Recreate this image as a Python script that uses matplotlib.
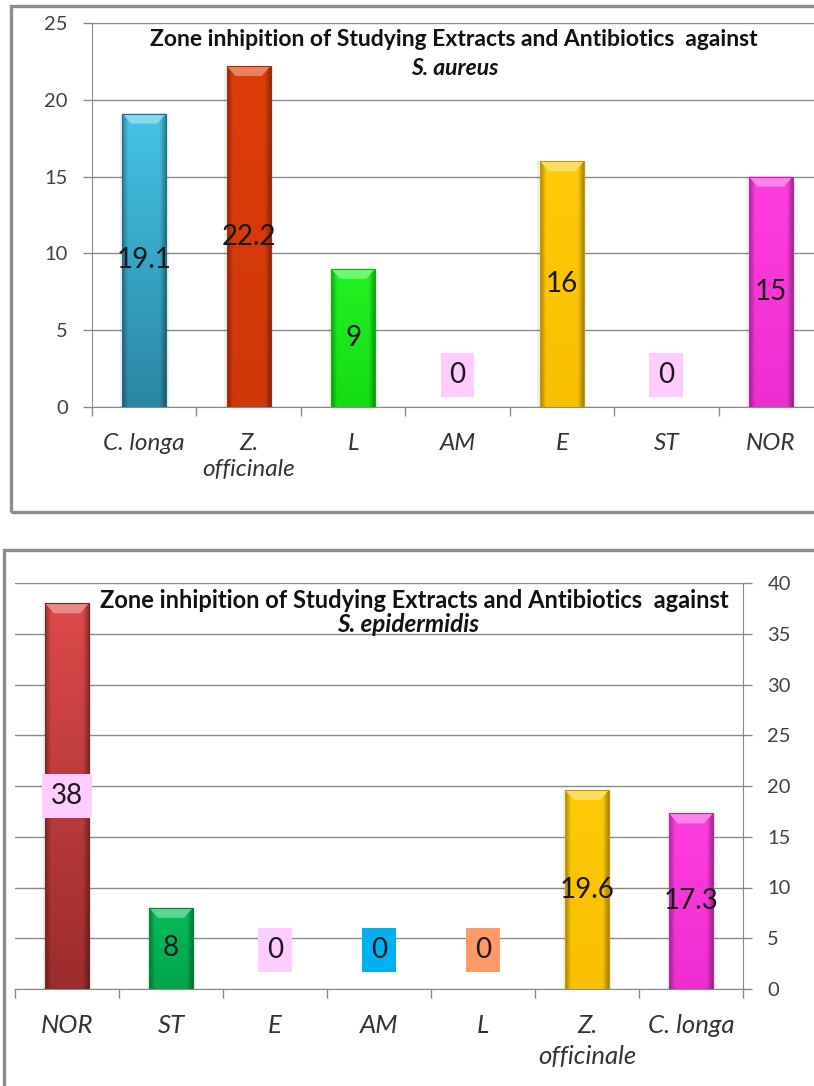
import numpy as np
import matplotlib.pyplot as plt
from matplotlib.colors import to_rgb
from matplotlib.patches import Polygon, Rectangle

plt.rcParams['font.family'] = ['Lato', 'DejaVu Sans']

# zone of inhibition (mm) against S. aureus
aureus_labels = ['C. longa', 'Z.\nofficinale', 'L', 'AM', 'E', 'ST', 'NOR']
aureus_zone = [19.1, 22.2, 9, 0, 16, 0, 15]
aureus_top = ['#44c4e6', '#de3d08', '#22f222', '#ffccff', '#ffca08', '#ffccff', '#ff3ede']
aureus_base = ['#2a87a4', '#d0380a', '#14dc14', '#ffccff', '#f8c000', '#ffccff', '#ee2ed0']
aureus_box = [None, None, None, '#ffccff', None, '#ffccff', None]

# zone of inhibition (mm) against S. epidermidis
epi_labels = ['NOR', 'ST', 'E', 'AM', 'L', 'Z.\nofficinale', 'C. longa']
epi_zone = [38, 8, 0, 0, 0, 19.6, 17.3]
epi_top = ['#dc4a4a', '#08bc5a', '#ffccff', '#00b0f0', '#ff9966', '#ffca08', '#ff3ede']
epi_base = ['#9c2c2c', '#00a64a', '#ffccff', '#00b0f0', '#ff9966', '#f8c000', '#ee2ed0']
epi_box = ['#ffccff', None, '#ffccff', '#00b0f0', '#ff9966', None, None]

TITLE = 'Zone inhipition of Studying Extracts and Antibiotics  against'
GRID = '#8a8a8a'
W, H = 814, 1086


def lighten(c, f):
    c = np.array(to_rgb(c))
    return tuple(c + (1 - c) * f)


def shaded_bar(ax, x, h, top, base, width=0.42, bevel_px=10):
    bar = ax.bar(x, h, width, color=base, linewidth=0, zorder=3)[0]
    if h <= 0:
        return
    # soft drop shadow
    ax.bar(x, h, width * 1.12, color='#000000', alpha=0.06, linewidth=0, zorder=2.8)
    ny, nx = 80, 40
    u = np.linspace(-1, 1, nx)
    edge = 1 - 0.32 * np.clip((np.abs(u) - 0.74) / 0.26, 0, 1)
    v = np.linspace(0, 1, ny)[:, None, None]
    col = np.array(to_rgb(base)) * (1 - v) + np.array(to_rgb(top)) * v
    img = np.clip(col * edge[None, :, None], 0, 1)
    im = ax.imshow(img, extent=(x - width / 2, x + width / 2, 0, h), origin='lower',
                   aspect='auto', interpolation='bilinear', zorder=3.2)
    im.set_clip_path(bar)
    # bevelled cap at the top of the bar
    ppu = ax.bbox.height / (ax.get_ylim()[1] - ax.get_ylim()[0])
    dy = min(bevel_px / ppu, h)
    dx = width * 0.2
    cap = Polygon([(x - width / 2, h), (x + width / 2, h),
                   (x + width / 2 - dx, h - dy), (x - width / 2 + dx, h - dy)],
                  closed=True, fc=lighten(top, 0.35), ec='none', zorder=3.4)
    ax.add_patch(cap)
    ax.bar(x, h, width, fill=False, edgecolor=tuple(np.array(to_rgb(base)) * 0.8),
           linewidth=0.8, zorder=3.5)


def setup(ax, labels, ymax, side, cat_size, cat_spacing, cat_pad):
    n = len(labels)
    ax.set_xlim(-0.5, n - 0.5)
    ax.set_ylim(0, ymax)
    ax.set_yticks(range(0, ymax + 1, 5))
    ax.grid(axis='y', color=GRID, linewidth=1)
    ax.set_axisbelow(True)
    ax.set_xticks(range(n), labels, fontstyle='italic', fontsize=cat_size, color='#333333',
                  linespacing=cat_spacing)
    ax.set_xticks(np.arange(-0.5, n), minor=True)
    ax.tick_params(axis='x', which='major', length=0, pad=cat_pad)
    ax.tick_params(axis='x', which='minor', length=6.5, width=1, color=GRID)
    ax.tick_params(axis='y', length=6.5, width=1, color=GRID, labelsize=14.5,
                   labelcolor='#404040', pad=11)
    for s in ax.spines.values():
        s.set_visible(False)
    ax.spines['bottom'].set_visible(True)
    ax.spines['bottom'].set_color(GRID)
    if side == 'right':
        ax.yaxis.tick_right()
        ax.spines['right'].set_visible(True)
        ax.spines['right'].set_color(GRID)
    else:
        ax.spines['left'].set_visible(True)
        ax.spines['left'].set_color(GRID)


def draw(ax, labels, values, tops, bases, boxes, ymax, side, zero_off, **cat):
    setup(ax, labels, ymax, side, **cat)
    for i, v in enumerate(values):
        shaded_bar(ax, i, v, tops[i], bases[i])
        bbox = None
        if boxes[i]:
            bbox = dict(boxstyle='square,pad=0.32', fc=boxes[i], ec='none')
        off = zero_off if v == 0 else 0
        ax.annotate(f'{v:g}', (i, v / 2), xytext=(0, off), textcoords='offset pixels',
                    ha='center', va='center', fontsize=20, color='#1a1a1a',
                    bbox=bbox, zorder=5)
    ax.set_xlim(-0.5, len(labels) - 0.5)
    ax.set_ylim(0, ymax)


fig = plt.figure(figsize=(W / 100, H / 100), dpi=100)

# S. aureus panel
fig.add_artist(Rectangle((11 / W, 1 - 512 / H), 1.1, (512 - 6) / H, transform=fig.transFigure,
                         fill=False, ec='#8c8c8c', lw=2.4))
ax1 = fig.add_axes([92 / W, 1 - 407 / H, 731 / W, 384 / H])
draw(ax1, aureus_labels, aureus_zone, aureus_top, aureus_base, aureus_box, 25, 'left', 32,
     cat_size=17.5, cat_spacing=1.3, cat_pad=19)
fig.text(454 / W, 1 - 40 / H, TITLE, ha='center', va='center', fontsize=16.5,
         fontweight='bold', color='#111111')
fig.text(455 / W, 1 - 68 / H, 'S. aureus', ha='center', va='center', fontsize=16.5,
         fontweight='bold', fontstyle='italic', color='#111111')

# S. epidermidis panel
fig.add_artist(Rectangle((4 / W, -0.1), 1.1, 0.1 + 1 - 550 / H, transform=fig.transFigure,
                         fill=False, ec='#8c8c8c', lw=2.4))
ax2 = fig.add_axes([15 / W, 1 - 989 / H, 728 / W, 406 / H])
draw(ax2, epi_labels, epi_zone, epi_top, epi_base, epi_box, 40, 'right', 39,
     cat_size=18.5, cat_spacing=1.4, cat_pad=18)
fig.text(414 / W, 1 - 600 / H, TITLE, ha='center', va='center', fontsize=17,
         fontweight='bold', color='#111111')
fig.text(408 / W, 1 - 625 / H, 'S. epidermidis', ha='center', va='center', fontsize=17.5,
         fontweight='bold', fontstyle='italic', color='#111111')

fig.savefig('out.png', dpi=100)
